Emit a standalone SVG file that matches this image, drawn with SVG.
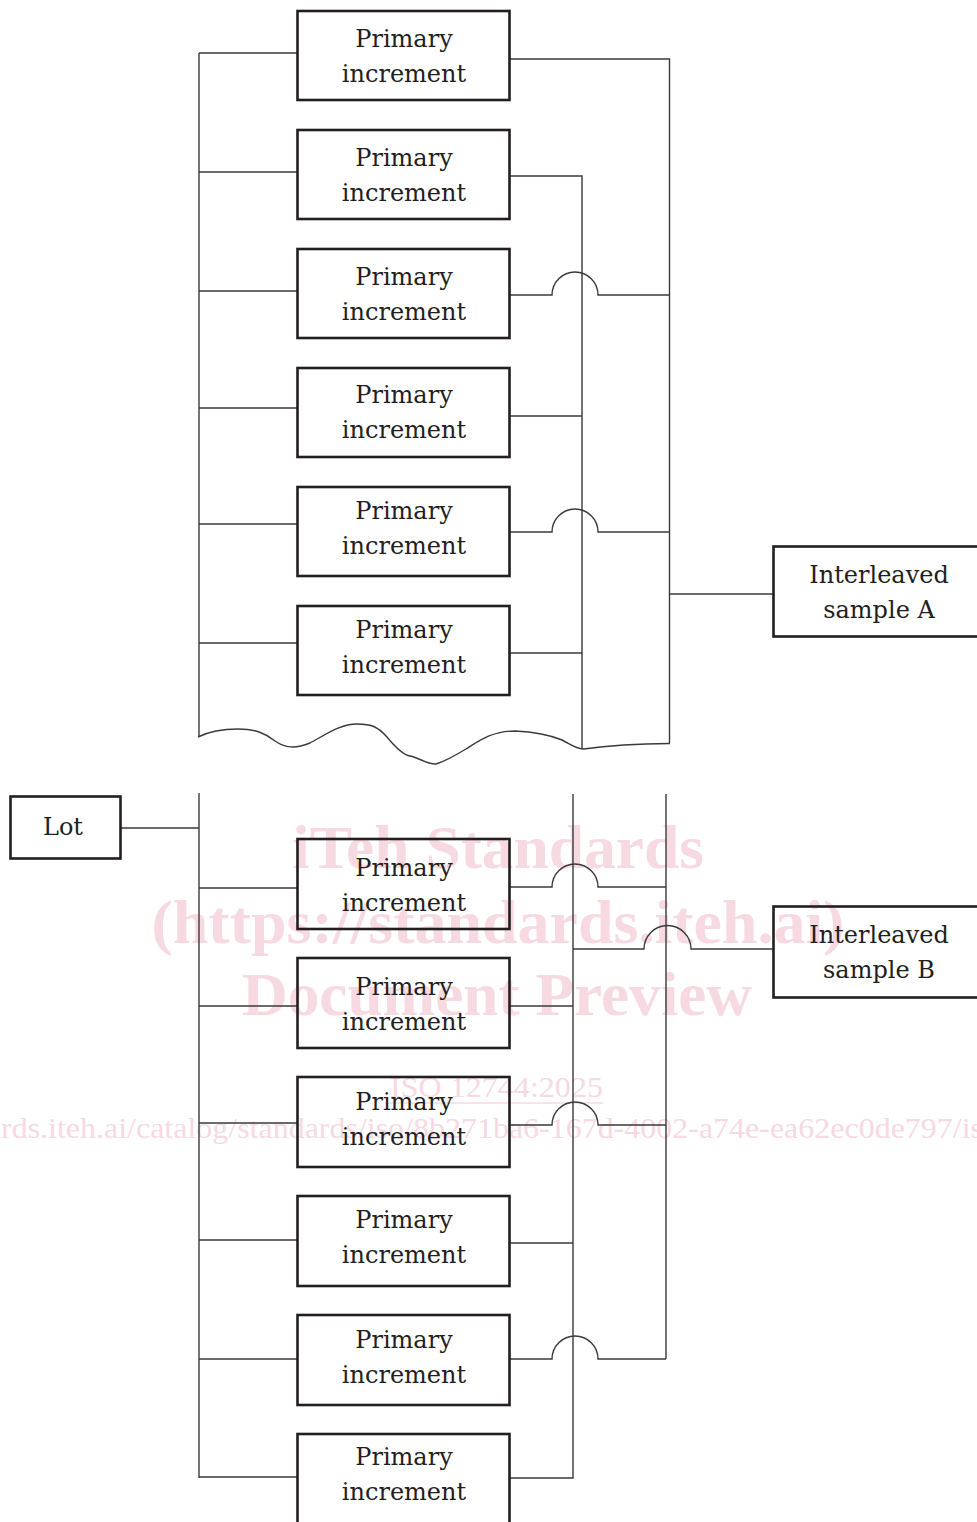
<svg xmlns="http://www.w3.org/2000/svg" width="977" height="1522" viewBox="0 0 977 1522">
<style>
.bg{fill:#ffffff}
.box{fill:none;stroke:#231f20;stroke-width:2.6}
.lbl{font-family:"DejaVu Serif","Liberation Serif",serif;font-size:24px;fill:#231f20;text-anchor:middle}
.wire{fill:none;stroke:#3a3a3a;stroke-width:1.4}
.wm{font-family:"Liberation Serif",serif;font-weight:bold;fill:#f7d9e2;text-anchor:middle}
.wm2{font-family:"Liberation Serif",serif;fill:#f7d9e2}
</style>
<rect class="bg" x="0" y="0" width="977" height="1522"/>
<g id="watermark">
<text class="wm" x="498" y="868" font-size="62" textLength="412" lengthAdjust="spacingAndGlyphs">iTeh Standards</text>
<text class="wm" x="498" y="943" font-size="62" textLength="693" lengthAdjust="spacingAndGlyphs">(https://standards.iteh.ai)</text>
<text class="wm" x="497" y="1015" font-size="62" textLength="510" lengthAdjust="spacingAndGlyphs">Document Preview</text>
<text class="wm2" x="390" y="1097" font-size="30" textLength="213" lengthAdjust="spacingAndGlyphs">ISO 12744:2025</text>
<line x1="390" y1="1103" x2="603" y2="1103" stroke="#f7d9e2" stroke-width="1.5"/>
<text class="wm2" x="1" y="1138" font-size="30" textLength="982" lengthAdjust="spacingAndGlyphs">rds.iteh.ai/catalog/standards/iso/8b271ba6-167d-4002-a74e-ea62ec0de797/is</text>
</g>
<g id="connectors">
<path class="wire" d="M199,737 V53"/>
<path class="wire" d="M199,53 H297 M199,172 H297 M199,291 H297 M199,408 H297 M199,524 H297 M199,643 H297"/>
<path class="wire" d="M510,59 H669.5 V743"/>
<path class="wire" d="M510,176 H582 V749"/>
<path class="wire" d="M510,295 H552 A23,23 0 0 1 598,295 H669.5"/>
<path class="wire" d="M510,416 H582"/>
<path class="wire" d="M510,532 H552 A23,23 0 0 1 598,532 H669.5"/>
<path class="wire" d="M510,653 H582"/>
<path class="wire" d="M669.5,594 H773"/>
<path class="wire" d="M198,737 C210,731 225,729 238,729 C255,729 265,733 275,741 C285,748 295,749 310,743 C325,735 340,724 357,724 C372,724 378,727 387,737 C396,748 403,755 410,756 C420,758 428,765 436,764 C446,761 456,755 466,749 C480,740 493,731 515,731 C535,732 550,735 562,740 C570,744 576,749 583,749 C598,747 620,744 670,743.5"/>
<path class="wire" d="M199,793 V1478"/>
<path class="wire" d="M121,828 H199"/>
<path class="wire" d="M199,888 H297 M199,1006 H297 M199,1123 H297 M199,1240 H297 M199,1359 H297 M199,1477 H297"/>
<path class="wire" d="M573,794 V1478 H510"/>
<path class="wire" d="M666,794 V1359"/>
<path class="wire" d="M510,887 H552 A23,23 0 0 1 598,887 H666"/>
<path class="wire" d="M573,949 H644 A23.5,23.5 0 0 1 691,949 H773"/>
<path class="wire" d="M510,1006 H573"/>
<path class="wire" d="M510,1125 H552 A23,23 0 0 1 598,1125 H666"/>
<path class="wire" d="M510,1243 H573"/>
<path class="wire" d="M510,1359 H552 A23,23 0 0 1 598,1359 H666"/>
</g>
<g id="pi1"><rect class="box" x="297.5" y="11" width="212" height="89"/><text class="lbl" x="404" y="47">Primary</text><text class="lbl" x="404" y="82">increment</text></g>
<g id="pi2"><rect class="box" x="297.5" y="130" width="212" height="89"/><text class="lbl" x="404" y="166">Primary</text><text class="lbl" x="404" y="201">increment</text></g>
<g id="pi3"><rect class="box" x="297.5" y="249" width="212" height="89"/><text class="lbl" x="404" y="285">Primary</text><text class="lbl" x="404" y="320">increment</text></g>
<g id="pi4"><rect class="box" x="297.5" y="368" width="212" height="89"/><text class="lbl" x="404" y="403">Primary</text><text class="lbl" x="404" y="438">increment</text></g>
<g id="pi5"><rect class="box" x="297.5" y="487" width="212" height="89"/><text class="lbl" x="404" y="519">Primary</text><text class="lbl" x="404" y="554">increment</text></g>
<g id="pi6"><rect class="box" x="297.5" y="606" width="212" height="89"/><text class="lbl" x="404" y="638">Primary</text><text class="lbl" x="404" y="673">increment</text></g>
<g id="sampleA"><rect class="box" x="773.5" y="546.5" width="212" height="90"/><text class="lbl" x="879" y="583">Interleaved</text><text class="lbl" x="879" y="618">sample A</text></g>
<g id="lot"><rect class="box" x="10.5" y="796.5" width="110" height="62"/><text class="lbl" x="63" y="835">Lot</text></g>
<g id="pi7"><rect class="box" x="297.5" y="839" width="212" height="90"/><text class="lbl" x="404" y="876">Primary</text><text class="lbl" x="404" y="911">increment</text></g>
<g id="pi8"><rect class="box" x="297.5" y="958" width="212" height="90"/><text class="lbl" x="404" y="995">Primary</text><text class="lbl" x="404" y="1030">increment</text></g>
<g id="pi9"><rect class="box" x="297.5" y="1077" width="212" height="90"/><text class="lbl" x="404" y="1110">Primary</text><text class="lbl" x="404" y="1145">increment</text></g>
<g id="pi10"><rect class="box" x="297.5" y="1196" width="212" height="90"/><text class="lbl" x="404" y="1228">Primary</text><text class="lbl" x="404" y="1263">increment</text></g>
<g id="pi11"><rect class="box" x="297.5" y="1315" width="212" height="90"/><text class="lbl" x="404" y="1348">Primary</text><text class="lbl" x="404" y="1383">increment</text></g>
<g id="pi12"><rect class="box" x="297.5" y="1434" width="212" height="100"/><text class="lbl" x="404" y="1465">Primary</text><text class="lbl" x="404" y="1500">increment</text></g>
<g id="sampleB"><rect class="box" x="773.5" y="906.5" width="212" height="91"/><text class="lbl" x="879" y="943">Interleaved</text><text class="lbl" x="879" y="978">sample B</text></g>
</svg>
